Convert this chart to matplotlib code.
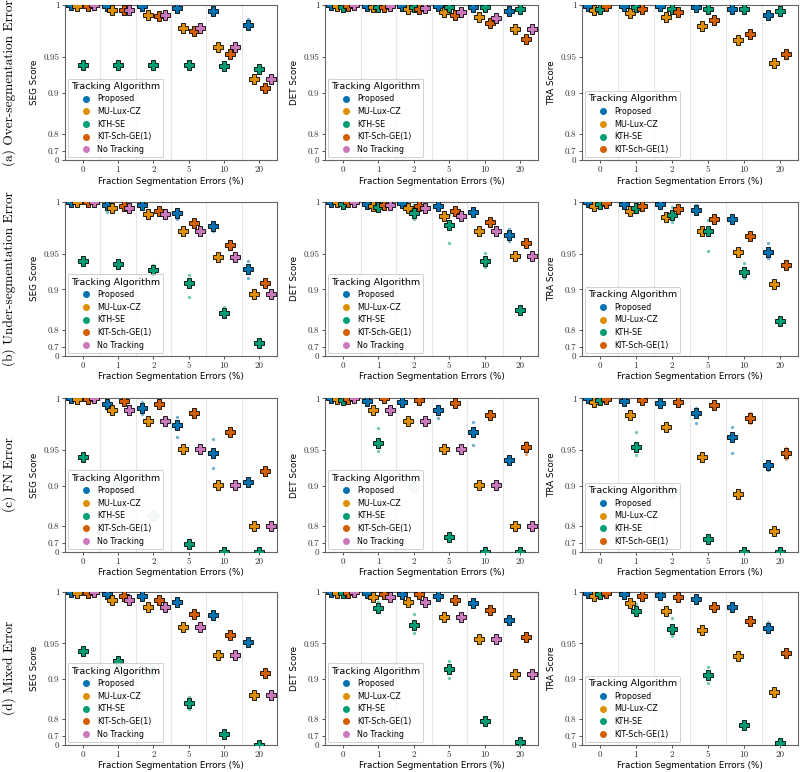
import numpy as np
import matplotlib
matplotlib.use("Agg")
import matplotlib.pyplot as plt
from matplotlib.lines import Line2D

# categories / algorithms
categories = ["0", "1", "2", "5", "10", "20"]
algorithms = ["Proposed", "MU-Lux-CZ", "KTH-SE", "KIT-Sch-GE(1)", "No Tracking"]
colors = ["#0173b2", "#de8f05", "#029e73", "#d55e00", "#cc78bc"]
row_titles = ["(a) Over-segmentation Error", "(b) Under-segmentation Error",
              "(c) FN Error", "(d) Mixed Error"]
metrics = ["SEG", "DET", "TRA"]

# mean scores per panel (row letter + metric)
a_seg = {"Proposed": [1.0, 0.9993, 0.9989, 0.9976, 0.9953, 0.9832],
         "MU-Lux-CZ": [0.9995, 0.9957, 0.9920, 0.980, 0.9612, 0.9226],
         "KTH-SE": [0.941, 0.941, 0.9406, 0.9401, 0.9395, 0.935],
         "KIT-Sch-GE(1)": [0.9995, 0.9956, 0.9909, 0.977, 0.9539, 0.908],
         "No Tracking": [1.0, 0.9957, 0.9917, 0.980, 0.9612, 0.9226]}
a_det = {"Proposed": [1.0, 0.999, 0.999, 0.9993, 0.9986, 0.9951],
         "MU-Lux-CZ": [0.9995, 0.9986, 0.997, 0.9942, 0.9896, 0.9795],
         "KTH-SE": [0.9986, 0.9986, 0.998, 0.998, 0.998, 0.9967],
         "KIT-Sch-GE(1)": [0.9995, 0.9986, 0.9966, 0.9920, 0.9847, 0.9698],
         "No Tracking": [1.0, 0.999, 0.9975, 0.9942, 0.9893, 0.9795]}
a_tra = {"Proposed": [0.9995, 0.9993, 0.9988, 0.9986, 0.9967, 0.9920],
         "MU-Lux-CZ": [0.9959, 0.9931, 0.9903, 0.9820, 0.9688, 0.9435],
         "KTH-SE": [0.997, 0.998, 0.997, 0.9966, 0.9966, 0.9953],
         "KIT-Sch-GE(1)": [0.9988, 0.9965, 0.9940, 0.9871, 0.9748, 0.9533]}

b_seg = {"Proposed": [1.0, 0.9973, 0.9970, 0.9906, 0.9786, 0.9306],
         "MU-Lux-CZ": [0.9995, 0.9945, 0.9894, 0.9737, 0.9462, 0.8915],
         "KTH-SE": [0.9412, 0.9372, 0.9293, 0.9101, 0.8517, 0.7294],
         "KIT-Sch-GE(1)": [0.9995, 0.9962, 0.9925, 0.9816, 0.9593, 0.9111],
         "No Tracking": [1.0, 0.9945, 0.9894, 0.9737, 0.9462, 0.8915]}
b_det = {"Proposed": [1.0, 0.998, 0.999, 0.9965, 0.9914, 0.9697],
         "MU-Lux-CZ": [0.9995, 0.9967, 0.9948, 0.9876, 0.9743, 0.9474],
         "KTH-SE": [0.998, 0.9959, 0.9908, 0.9800, 0.9406, 0.8586],
         "KIT-Sch-GE(1)": [0.9995, 0.9975, 0.9967, 0.9920, 0.9822, 0.9614],
         "No Tracking": [1.0, 0.9973, 0.9950, 0.9876, 0.9743, 0.9474]}
b_tra = {"Proposed": [0.9998, 0.998, 0.998, 0.9933, 0.9850, 0.9517],
         "MU-Lux-CZ": [0.9967, 0.9920, 0.9870, 0.9737, 0.9514, 0.9090],
         "KTH-SE": [0.998, 0.9950, 0.9888, 0.9737, 0.9267, 0.8300],
         "KIT-Sch-GE(1)": [0.9993, 0.9962, 0.9937, 0.9855, 0.9692, 0.9355]}

c_seg = {"Proposed": [1.0, 0.9953, 0.9916, 0.9764, 0.9462, 0.9055],
         "MU-Lux-CZ": [0.9995, 0.9904, 0.9805, 0.9506, 0.9008, 0.7990],
         "KTH-SE": [0.9417, 0.9011, 0.8357, 0.6915, 0.3, 0.3],
         "KIT-Sch-GE(1)": [0.9995, 0.9978, 0.9953, 0.9872, 0.9695, 0.9228],
         "No Tracking": [1.0, 0.9904, 0.9805, 0.9506, 0.9008, 0.7990]}
c_det = {"Proposed": [1.0, 0.998, 0.9967, 0.9901, 0.9698, 0.9381],
         "MU-Lux-CZ": [0.9995, 0.9904, 0.9805, 0.9506, 0.9008, 0.7990],
         "KTH-SE": [0.9986, 0.9582, 0.8984, 0.746, 0.3, 0.3],
         "KIT-Sch-GE(1)": [0.9995, 1.0, 0.9986, 0.9959, 0.9857, 0.9530],
         "No Tracking": [1.0, 0.9904, 0.9805, 0.9506, 0.9008, 0.7990]}
c_tra = {"Proposed": [1.0, 0.9978, 0.9959, 0.9872, 0.9647, 0.9311],
         "MU-Lux-CZ": [0.9972, 0.9857, 0.9748, 0.9410, 0.8855, 0.7789],
         "KTH-SE": [0.9984, 0.9533, 0.8895, 0.7347, 0.3, 0.3],
         "KIT-Sch-GE(1)": [0.9995, 0.9986, 0.9972, 0.9942, 0.9828, 0.9466]}

d_seg = {"Proposed": [1.0, 0.9986, 0.9965, 0.9916, 0.9801, 0.9517],
         "MU-Lux-CZ": [0.9995, 0.9936, 0.9872, 0.9677, 0.9356, 0.8699],
         "KTH-SE": [0.9412, 0.9272, 0.9126, 0.8510, 0.7171, 0.3],
         "KIT-Sch-GE(1)": [0.9995, 0.9965, 0.9936, 0.9810, 0.9598, 0.9101],
         "No Tracking": [1.0, 0.9936, 0.9872, 0.9677, 0.9356, 0.8699]}
d_det = {"Proposed": [1.0, 0.999, 0.9986, 0.9965, 0.9910, 0.9750],
         "MU-Lux-CZ": [0.9995, 0.9956, 0.9913, 0.9776, 0.9546, 0.9087],
         "KTH-SE": [0.9992, 0.9862, 0.9697, 0.9160, 0.7929, 0.6],
         "KIT-Sch-GE(1)": [0.9995, 0.9986, 0.998, 0.9930, 0.9841, 0.9570],
         "No Tracking": [1.0, 0.9956, 0.9913, 0.9776, 0.9546, 0.9087]}
d_tra = {"Proposed": [0.9995, 0.9986, 0.9978, 0.9944, 0.9872, 0.9666],
         "MU-Lux-CZ": [0.997, 0.9904, 0.9839, 0.9653, 0.9341, 0.8748],
         "KTH-SE": [0.9984, 0.9839, 0.9656, 0.9072, 0.7757, 0.57],
         "KIT-Sch-GE(1)": [0.9993, 0.9967, 0.9956, 0.9875, 0.9743, 0.9382]}

# individual run scores that stick out from the mean marker: (algorithm, category index) -> values
a_seg_runs = {("Proposed", 5): [0.988, 0.985, 0.980]}
b_seg_runs = {("Proposed", 1): [0.991], ("Proposed", 3): [0.9937, 0.985], ("Proposed", 4): [0.9737],
              ("Proposed", 5): [0.941, 0.935, 0.925, 0.918],
              ("KTH-SE", 2): [0.9364, 0.9228], ("KTH-SE", 3): [0.9221, 0.8858], ("KTH-SE", 4): [0.8665]}
b_det_runs = {("KTH-SE", 2): [0.9973, 0.985], ("KTH-SE", 3): [0.9886, 0.9618],
              ("KTH-SE", 4): [0.9506, 0.934], ("Proposed", 5): [0.9757, 0.9642]}
b_tra_runs = {("KTH-SE", 2): [0.9954, 0.9822], ("KTH-SE", 3): [0.9846, 0.9526],
              ("KTH-SE", 4): [0.9385, 0.9186], ("Proposed", 5): [0.9614, 0.9443],
              ("Proposed", 3): [0.997, 0.99]}
c_seg_runs = {("Proposed", 1): [0.991], ("Proposed", 2): [0.9967, 0.9863],
              ("Proposed", 3): [0.9841, 0.9647], ("Proposed", 4): [0.962, 0.9275]}
c_det_runs = {("KTH-SE", 1): [0.9738, 0.9493], ("Proposed", 3): [0.9936, 0.9828],
              ("Proposed", 4): [0.9796, 0.956], ("KIT-Sch-GE(1)", 4): [0.989, 0.982],
              ("KIT-Sch-GE(1)", 5): [0.9593, 0.945]}
c_tra_runs = {("KTH-SE", 1): [0.9692, 0.944], ("KTH-SE", 2): [0.9011],
              ("Proposed", 3): [0.9916, 0.978], ("Proposed", 4): [0.974, 0.946],
              ("Proposed", 5): [0.9364, 0.9238], ("KIT-Sch-GE(1)", 4): [0.9872, 0.978],
              ("KIT-Sch-GE(1)", 5): [0.9526, 0.939]}
d_seg_runs = {("KTH-SE", 1): [0.9324, 0.922], ("KTH-SE", 2): [0.9186, 0.9072],
              ("KTH-SE", 3): [0.8652, 0.835], ("Proposed", 5): [0.9543, 0.949]}
d_det_runs = {("KTH-SE", 1): [0.9916, 0.9823], ("KTH-SE", 2): [0.981, 0.9618],
              ("KTH-SE", 3): [0.9272, 0.9016], ("Proposed", 5): [0.9786, 0.9717]}
d_tra_runs = {("KTH-SE", 1): [0.9898, 0.9795], ("KTH-SE", 2): [0.9774, 0.958],
              ("KTH-SE", 3): [0.9186, 0.892], ("Proposed", 5): [0.9728, 0.9625]}

# mean markers that appear washed out in the original
c_seg_faded = [("KTH-SE", 1), ("KTH-SE", 2)]
c_det_faded = [("KTH-SE", 2)]
c_tra_faded = [("KTH-SE", 2)]
d_seg_faded = [("KTH-SE", 2)]

panels = [[(a_seg, a_seg_runs, []), (a_det, {}, []), (a_tra, {}, [])],
          [(b_seg, b_seg_runs, []), (b_det, b_det_runs, []), (b_tra, b_tra_runs, [])],
          [(c_seg, c_seg_runs, c_seg_faded), (c_det, c_det_runs, c_det_faded), (c_tra, c_tra_runs, c_tra_faded)],
          [(d_seg, d_seg_runs, d_seg_faded), (d_det, d_det_runs, []), (d_tra, d_tra_runs, [])]]

yticks = [0, 0.7, 0.8, 0.9, 0.95, 1]
ytick_labels = ["0", "0.7", "0.8", "0.9", "0.95", "1"]

fig = plt.figure(figsize=(8, 7.72), dpi=100)
W, Hf = 800.0, 772.0
col_px = [(65, 277), (325, 538), (582, 798)]
row_px = [(5, 160), (201.7, 355.7), (398.3, 551.7), (592, 744.7)]

forward = lambda y: np.clip(y, 0, None) ** 8
inverse = lambda y: np.clip(y, 0, None) ** 0.125

offsets = (np.arange(len(algorithms)) - 2) * 0.16
xs = np.arange(len(categories))

for r, (top, bot) in enumerate(row_px):
    for c, (left, right) in enumerate(col_px):
        ax = fig.add_axes([left / W, 1 - bot / Hf, (right - left) / W, (bot - top) / Hf])
        means, runs, faded = panels[r][c]
        ax.set_yscale("function", functions=(forward, inverse))
        ax.set_ylim(0, 1)
        ax.set_xlim(-0.5, len(categories) - 0.5)
        for b in np.arange(0.5, len(categories) - 0.5):
            ax.axvline(b, color="#e6e6e6", lw=0.8, zorder=0)

        # individual runs (small dots)
        for (alg, ci), vals in runs.items():
            k = algorithms.index(alg)
            ax.plot([xs[ci] + offsets[k]] * len(vals), vals, "o", ms=2.4,
                    color=colors[k], alpha=0.55, mew=0, zorder=2)

        # mean markers
        handles = []
        for k, alg in enumerate(algorithms):
            if alg not in means:
                continue
            vals = np.array(means[alg])
            for ci, v in enumerate(vals):
                a = 0.3 if (alg, ci) in faded else 1.0
                ax.plot(xs[ci] + offsets[k], v, "P", ms=6.5, mfc=colors[k], mec="black",
                        mew=0.6, alpha=a, zorder=3 + k * 0.01)
            handles.append(Line2D([], [], marker="o", ls="", ms=4, color=colors[k], label=alg))

        ax.set_yticks(yticks)
        ax.set_yticklabels(ytick_labels, fontname="cmr10", fontsize=6.5)
        ax.yaxis.set_minor_locator(matplotlib.ticker.NullLocator())
        ax.set_xticks(xs)
        ax.set_xticklabels(categories, fontname="cmr10", fontsize=6.5)
        ax.tick_params(length=2.5, width=0.6, pad=1.5, colors="0.2")
        for s in ax.spines.values():
            s.set_color("0.4")
            s.set_linewidth(0.8)
        ax.set_ylabel(metrics[c] + " Score", fontsize=6.3, labelpad=3)
        ax.set_xlabel("Fraction Segmentation Errors (%)", fontsize=6.3, labelpad=2)

        leg = ax.legend(handles=handles, title="Tracking Algorithm", loc="lower left",
                        fontsize=5.8, title_fontsize=6.8, handletextpad=0.6,
                        labelspacing=0.45, borderaxespad=0.35, handlelength=1.6,
                        frameon=True, fancybox=True, framealpha=0.85)
        leg.get_frame().set_edgecolor("0.75")
        leg.get_frame().set_linewidth(0.6)

    fig.text(9 / W, 1 - (top + bot) / 2 / Hf, row_titles[r], rotation=90,
             ha="center", va="center", fontname="cmr10", fontsize=9.6)

fig.savefig("out.png", dpi=100)
